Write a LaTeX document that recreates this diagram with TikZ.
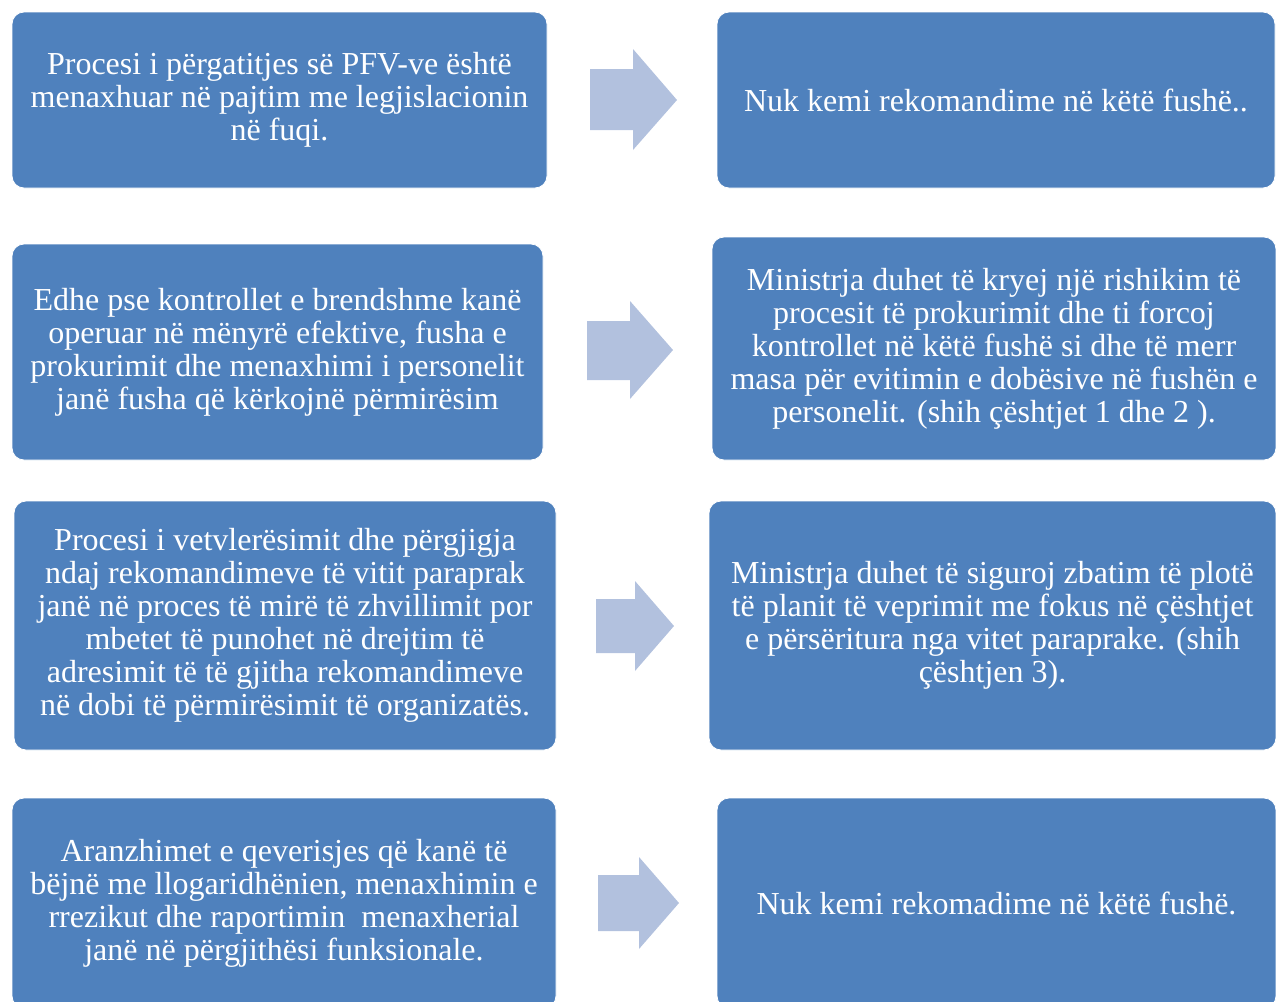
\documentclass[tikz,border=0pt]{standalone}
\usepackage{fontspec}
\setmainfont{Liberation Serif}
\usepackage{tikz}
\usetikzlibrary{positioning}

\definecolor{azul}{HTML}{4F81BD}
\definecolor{celeste}{HTML}{B2C1DE}

\begin{document}
\begin{tikzpicture}[x=0.5pt, y=-0.5pt,
  caja/.style={fill=azul, draw=white, line width=0.4pt, rounded corners=6pt,
    text=white, align=center, inner sep=0pt,
    font=\fontsize{16}{16.5}\selectfont},
  flecha/.style={fill=celeste}]
  \useasboundingbox (0,0) rectangle (1276,1002);

  % Cajas izquierda
  \node[caja, minimum width=267.5pt, minimum height=88pt] (a1) at (279.5,100)
    {Procesi i përgatitjes së PFV-ve është\\menaxhuar në pajtim me legjislacionin\\në fuqi.};
  \node[caja, minimum width=265.5pt, minimum height=108pt] (a2) at (277.5,352)
    {Edhe pse kontrollet e brendshme kanë\\operuar në mënyrë efektive, fusha e\\prokurimit dhe menaxhimi i personelit\\janë fusha që kërkojnë përmirësim};
  \node[caja, minimum width=271pt, minimum height=124.5pt] (a3) at (285,625.5)
    {Procesi i vetvlerësimit dhe përgjigja\\ndaj rekomandimeve të vitit paraprak\\janë në proces të mirë të zhvillimit por\\mbetet të punohet në drejtim të\\adresimit të të gjitha rekomandimeve\\në dobi të përmirësimit të organizatës.};
  \node[caja, minimum width=272pt, minimum height=105pt] (a4) at (284,903)
    {Aranzhimet e qeverisjes që kanë të\\bëjnë me llogaridhënien, menaxhimin e\\rrezikut dhe raportimin \ menaxherial\\janë në përgjithësi funksionale.};

  % Cajas derecha
  \node[caja, minimum width=279pt, minimum height=88pt] (b1) at (996,100)
    {Nuk kemi rekomandime në këtë fushë..};
  \node[caja, minimum width=282pt, minimum height=111.5pt] (b2) at (994,348.5)
    {Ministrja duhet të kryej një rishikim të\\procesit të prokurimit dhe ti forcoj\\kontrollet në këtë fushë si dhe të merr\\masa për evitimin e dobësive në fushën e\\personelit. (shih çështjet 1 dhe 2 ).};
  \node[caja, minimum width=283.5pt, minimum height=124.5pt] (b3) at (992.5,625.5)
    {Ministrja duhet të siguroj zbatim të plotë\\të planit të veprimit me fokus në çështjet\\e përsëritura nga vitet paraprake. (shih\\çështjen 3).};
  \node[caja, minimum width=279.5pt, minimum height=105pt] (b4) at (996.5,903)
    {Nuk kemi rekomadime në këtë fushë.};

  % Flechas
  \fill[flecha] (590,69) -- (633,69) -- (633,49) -- (677,100) -- (633,150) -- (633,130) -- (590,130) -- cycle;
  \fill[flecha] (587,321) -- (630,321) -- (630,301) -- (673,350) -- (630,399) -- (630,380) -- (587,380) -- cycle;
  \fill[flecha] (596,599) -- (635,599) -- (635,581) -- (674,626) -- (635,671) -- (635,653) -- (596,653) -- cycle;
  \fill[flecha] (598,875) -- (639,875) -- (639,857) -- (679,903) -- (639,949) -- (639,931) -- (598,931) -- cycle;

\end{tikzpicture}
\end{document}
